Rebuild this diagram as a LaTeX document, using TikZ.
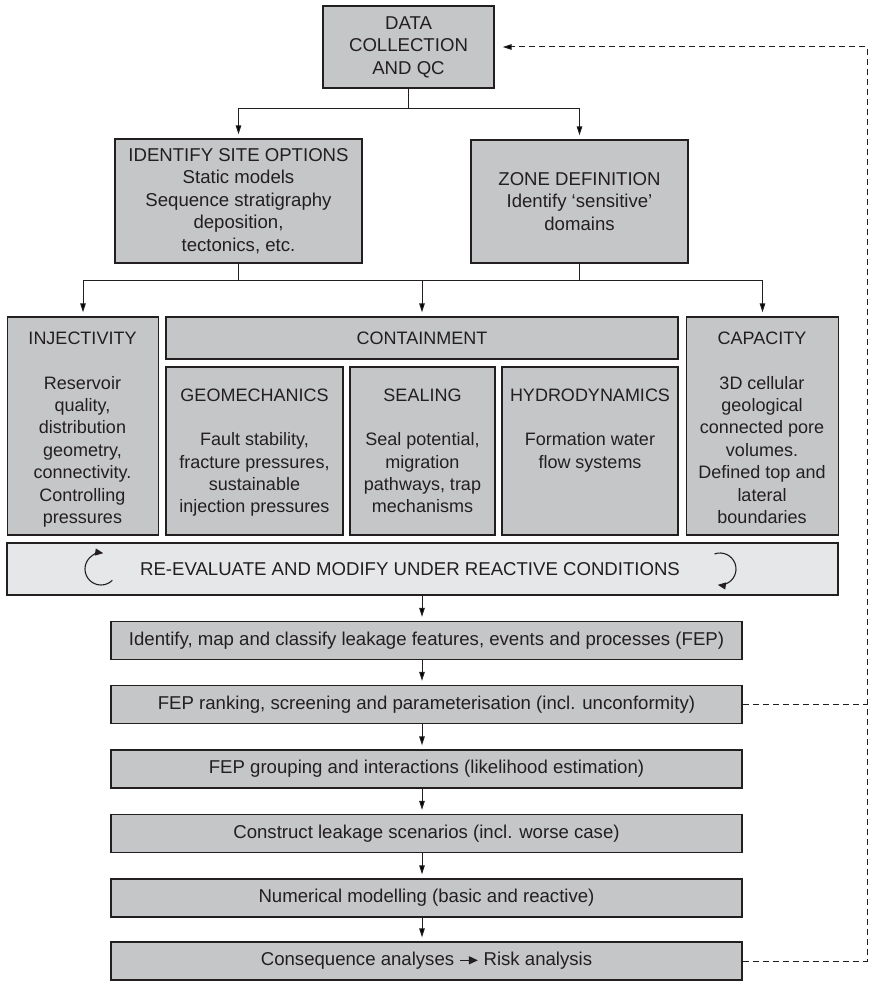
\documentclass[tikz,border=0pt]{standalone}
\usepackage{fontspec}
\setmainfont{Liberation Sans}
\usetikzlibrary{arrows.meta}
\definecolor{boxfill}{HTML}{C5C6C8}
\definecolor{lightfill}{HTML}{E6E7E8}
\definecolor{ink}{HTML}{231F20}
\begin{document}
\begin{tikzpicture}[x=1pt,y=-1pt,
  font=\fontsize{18.6}{22.6}\selectfont, text=ink,
  box/.style={draw=ink, fill=boxfill, line width=1.3pt, inner sep=0pt, align=center},
  lightbox/.style={box, fill=lightfill},
  txt/.style={inner sep=0pt, align=center, anchor=north, font=\fontsize{18}{22.4}\selectfont},
  conn/.style={draw=ink, line width=1pt},
  arr/.style={conn, -{Triangle[length=9pt,width=5.5pt]}, shorten >=4pt},
  dashline/.style={draw=ink, line width=1pt, dash pattern=on 6pt off 4pt},
  circarr/.style={draw=ink, line width=1.1pt, -{Triangle[length=8pt,width=7pt]}}
]
\useasboundingbox (0,0) rectangle (868,981);

% top level
\node[box, minimum width=171, minimum height=82] (data) at (408.5,47)
  {DATA\\COLLECTION\\AND QC};
\node[box, minimum width=247, minimum height=124] (site) at (238.5,201)
  {IDENTIFY SITE OPTIONS\\Static models\\Sequence stratigraphy\\deposition,\\tectonics, etc.};
\node[box, minimum width=217, minimum height=123] (zone) at (579.5,201.5)
  {ZONE DEFINITION\\Identify `sensitive'\\domains};

% middle row
\node[box, minimum width=151, minimum height=218] (inj) at (83,426) {};
\node[box, minimum width=512, minimum height=42, font=\fontsize{18}{22.4}\selectfont] (cont) at (422,338) {CONTAINMENT};
\node[box, minimum width=177, minimum height=168] (geo) at (254.5,451) {};
\node[box, minimum width=145, minimum height=168] (seal) at (422.5,451) {};
\node[box, minimum width=176, minimum height=168] (hydro) at (590,451) {};
\node[box, minimum width=152, minimum height=218] (cap) at (762.5,426) {};

\node[txt] (injt) at (82.5,331.5) {INJECTIVITY\\[22.4pt]Reservoir\\quality,\\distribution\\geometry,\\connectivity.\\Controlling\\pressures};
\node[txt] (capt) at (762,331.5) {CAPACITY\\[22.4pt]3D cellular\\geological\\connected pore\\volumes.\\Defined top and\\lateral\\boundaries};
\node[txt] (geot) at (254.5,388.5) {GEOMECHANICS\\[22pt]Fault stability,\\fracture pressures,\\sustainable\\injection pressures};
\node[txt] (sealt) at (422.5,388.5) {SEALING\\[22pt]Seal potential,\\migration\\pathways, trap\\mechanisms};
\node[txt] (hydrot) at (590,388.5) {HYDRODYNAMICS\\[22pt]Formation water\\flow systems};

% re-evaluate
\node[lightbox, minimum width=831, minimum height=52] (re) at (422.5,569) {};
\node[inner sep=0pt] (ret) at (410,569) {RE-EVALUATE AND MODIFY UNDER REACTIVE CONDITIONS};
\coordinate (lc) at (101,569);
\coordinate (rc) at (720,569);
\draw[circarr] ([shift={(45:16)}]lc) arc[start angle=45, end angle=278, radius=16];
\draw[circarr] ([shift={(250:16)}]rc) arc[start angle=250, end angle=458, radius=16];

% FEP chain
\node[box, minimum width=631, minimum height=38] (f1) at (426.5,640.5)
  {Identify, map and classify leakage features, events and processes (FEP)};
\node[box, minimum width=631, minimum height=38] (f2) at (426.5,704.5)
  {FEP ranking, screening and parameterisation (incl. unconformity)};
\node[box, minimum width=631, minimum height=38] (f3) at (426.5,769)
  {FEP grouping and interactions (likelihood estimation)};
\node[box, minimum width=631, minimum height=38] (f4) at (426.5,833.5)
  {Construct leakage scenarios (incl. worse case)};
\node[box, minimum width=631, minimum height=38] (f5) at (426.5,898)
  {Numerical modelling (basic and reactive)};
\node[box, minimum width=631, minimum height=38] (f6) at (426.5,961)
  {Consequence analyses \tikz[baseline=0pt,x=1pt,y=1pt]{\draw[draw=ink,line width=1.1pt,-{Triangle[length=9pt,width=8pt]}] (0,5.5)--(18,5.5);} Risk analysis};

% connectors
\coordinate (j1) at (408.5,109);
\coordinate (j2) at (422,280);
\coordinate (sp) at (422,0);
\coordinate (dx) at (867,0);
\draw[conn] (data.south) -- (j1);
\draw[arr] (j1) -| (site.north);
\draw[arr] (j1) -| (zone.north);
\draw[conn] (site.south) -- (site.south |- j2);
\draw[conn] (zone.south) -- (zone.south |- j2);
\draw[arr] (j2) -| (inj.north);
\draw[arr] (j2) -| (cap.north);
\draw[arr] (j2) -- (cont.north);
\draw[arr] (re.south -| sp) -- (f1.north -| sp);
\draw[arr] (f1.south -| sp) -- (f2.north -| sp);
\draw[arr] (f2.south -| sp) -- (f3.north -| sp);
\draw[arr] (f3.south -| sp) -- (f4.north -| sp);
\draw[arr] (f4.south -| sp) -- (f5.north -| sp);
\draw[arr] (f5.south -| sp) -- (f6.north -| sp);

% feedback (dashed)
\draw[dashline] (f2.east) -- (f2.east -| dx);
\draw[dashline, -{Triangle[length=9pt,width=5.5pt]}, shorten >=8pt]
  (f6.east) -- (f6.east -| dx) -- (data.east -| dx) -- (data.east);
\end{tikzpicture}
\end{document}
